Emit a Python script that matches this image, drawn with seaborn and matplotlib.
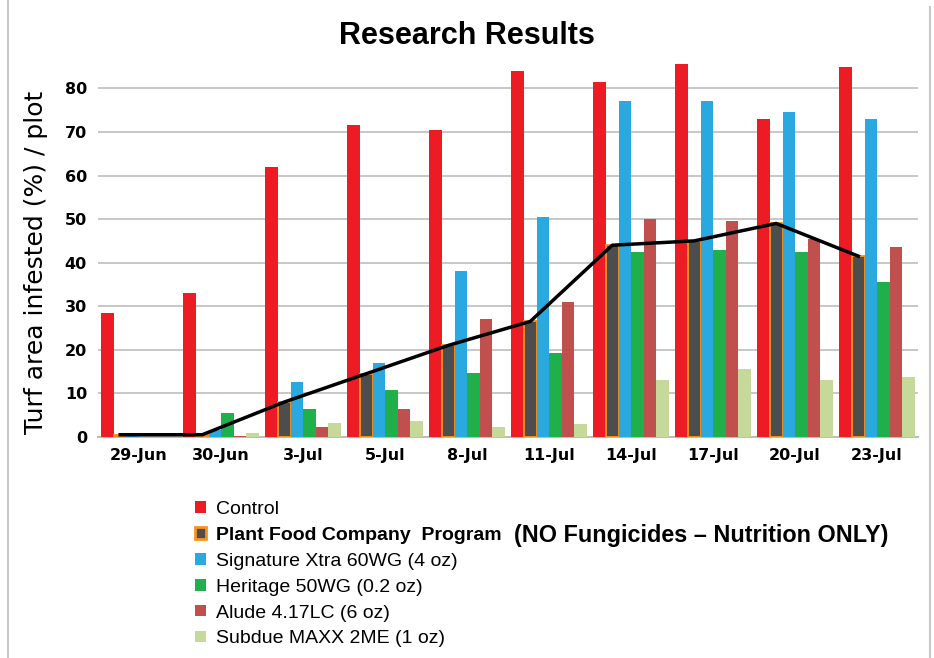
import matplotlib
matplotlib.use("Agg")
import matplotlib.pyplot as plt
from matplotlib.lines import Line2D
from matplotlib.patches import Patch
import seaborn as sns
import pandas as pd
import numpy as np

# dates on the x axis
dates = ["29-Jun", "30-Jun", "3-Jul", "5-Jul", "8-Jul",
         "11-Jul", "14-Jul", "17-Jul", "20-Jul", "23-Jul"]

# % turf area infested per plot
control = [28.5, 33, 62, 71.5, 70.5, 84, 81.5, 85.5, 73, 85]
plant_food = [0.5, 0.5, 8, 14.5, 21, 26.5, 44, 45, 49, 41.5]
signature = [0.3, 1.5, 12.5, 17, 38, 50.5, 77, 77, 74.5, 73]
heritage = [0, 5.5, 6.3, 10.8, 14.6, 19.3, 42.5, 43, 42.5, 35.5]
alude = [0, 0.3, 2.2, 6.3, 27, 31, 50, 49.5, 45.5, 43.5]
subdue = [0, 0.8, 3.2, 3.6, 2.2, 3, 13, 15.7, 13, 13.7]

series = ["Control", "Plant Food Company  Program", "Signature Xtra 60WG (4 oz)",
          "Heritage 50WG (0.2 oz)", "Alude 4.17LC (6 oz)", "Subdue MAXX 2ME (1 oz)"]
colors = ["#ED1C24", "#4D4D4D", "#29A9E0", "#1FB04B", "#C0504D", "#C6D99B"]

df = pd.DataFrame({
    "date": dates * 6,
    "value": control + plant_food + signature + heritage + alude + subdue,
    "series": np.repeat(series, len(dates)),
})

fig = plt.figure(figsize=(9.34, 6.58), dpi=100)
ax = fig.add_axes([0.105, 0.336, 0.878, 0.576])

sns.barplot(data=df, x="date", y="value", hue="series", hue_order=series,
            palette=colors, width=0.92, saturation=1, ax=ax, legend=False,
            zorder=3)

# orange outline on the Plant Food bars
for i, container in enumerate(ax.containers):
    for bar in container:
        if i == 1:
            bar.set_edgecolor("#F7941D")
            bar.set_linewidth(1.3)
        else:
            bar.set_edgecolor("none")

# black trend line over the Plant Food bars
pf_x = [b.get_x() + b.get_width() / 2 for b in ax.containers[1]]
ax.plot(pf_x, plant_food, color="black", lw=2.5, zorder=5)

ax.set_xlim(-0.5, 9.5)
ax.set_ylim(0, 87)
ax.set_yticks(range(0, 90, 10))
ax.yaxis.grid(True, color="#BDBDBD", lw=1.2, zorder=0)
ax.set_axisbelow(True)
for s in ["top", "right", "left"]:
    ax.spines[s].set_visible(False)
ax.spines["bottom"].set_color("#BDBDBD")
ax.spines["bottom"].set_linewidth(1.5)
ax.tick_params(axis="both", length=0, labelsize=11.5, pad=8)
for lab in ax.get_xticklabels() + ax.get_yticklabels():
    lab.set_fontweight("bold")
ax.set_xlabel("")
ax.set_ylabel("Turf area infested (%) / plot", fontsize=18)
ax.yaxis.set_label_coords(-0.061, 0.46)

fig.text(0.5, 0.945, "Research Results", ha="center", va="center", fontsize=22,
         fontweight="bold", family="Liberation Sans")

# legend below the chart
handles = []
for i, (name, c) in enumerate(zip(series, colors)):
    if i == 1:
        handles.append(Patch(facecolor=c, edgecolor="#F7941D", lw=2))
    else:
        handles.append(Patch(facecolor=c, edgecolor="none"))
leg = fig.legend(handles, series, loc="upper left", bbox_to_anchor=(0.209, 0.239),
                 frameon=False, handlelength=0.55, handleheight=0.55,
                 handletextpad=0.5, labelspacing=0.46, borderaxespad=0, borderpad=0,
                 prop={"family": "Liberation Sans", "size": 14})
leg.get_texts()[1].set_fontweight("bold")
fig.canvas.draw()
t = leg.get_texts()[1]
bb = t.get_window_extent()
fig.text((bb.x1 + 13) / fig.bbox.width, (bb.y0 + bb.y1) / 2 / fig.bbox.height,
         "(NO Fungicides \u2013 Nutrition ONLY)", fontsize=16.8, fontweight="bold",
         va="center", ha="left", family="Liberation Sans")

# light frame edges like the original image
fig.add_artist(Line2D([0.009, 0.009], [0, 1], color="#C8C8C8", lw=1.5))
fig.add_artist(Line2D([0.996, 0.996], [0, 0.99], color="#C8C8C8", lw=1.5))

fig.savefig("out.png", dpi=100)
